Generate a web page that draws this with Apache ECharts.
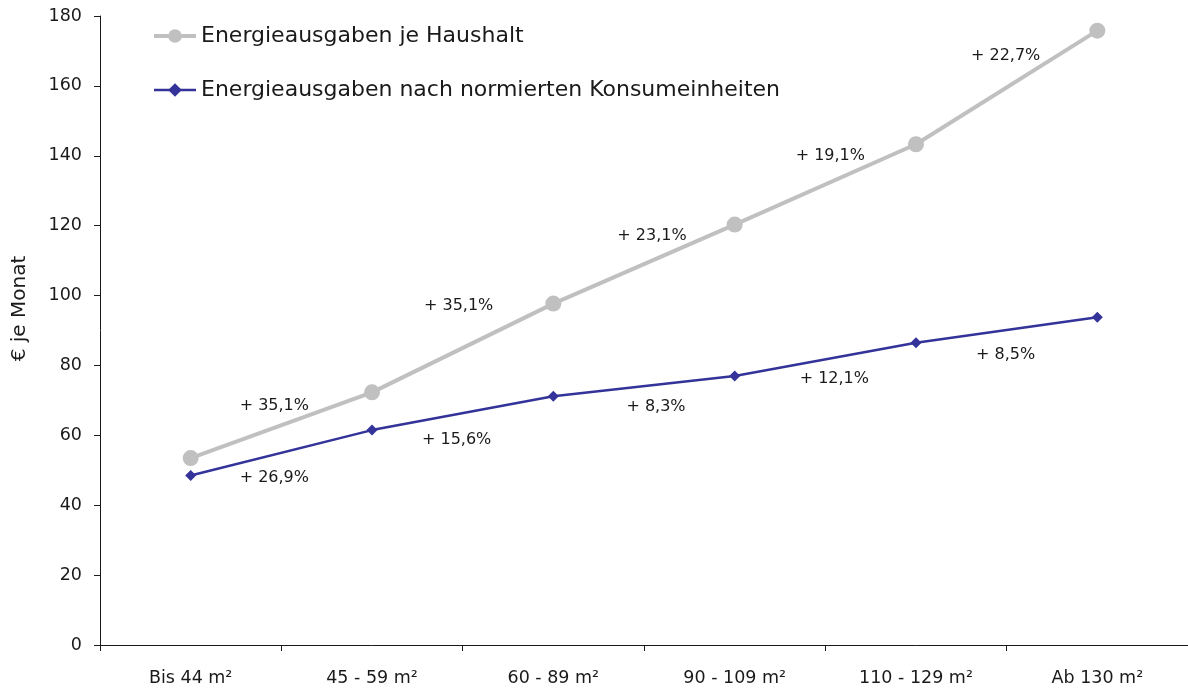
<!DOCTYPE html>
<html>
<head>
<meta charset="utf-8">
<script src="https://cdn.jsdelivr.net/npm/echarts@6/dist/echarts.min.js"></script>
<style>
  html, body { margin: 0; padding: 0; background: #fff; }
  #chart { width: 1188px; height: 693px; }
</style>
</head>
<body>
<div id="chart"></div>
<script>
// Wohnflächenklassen
const categories = ['Bis 44 m²', '45 - 59 m²', '60 - 89 m²', '90 - 109 m²', '110 - 129 m²', 'Ab 130 m²'];

// € je Monat
const haushalt = [53.5, 72.3, 97.7, 120.3, 143.3, 175.8];
const konsum = [48.5, 61.5, 71.2, 77.0, 86.5, 93.8];

// Zuwachs zwischen den Klassen
const haushaltPct = ['+ 35,1%', '+ 35,1%', '+ 23,1%', '+ 19,1%', '+ 22,7%'];
const konsumPct = ['+ 26,9%', '+ 15,6%', '+ 8,3%', '+ 12,1%', '+ 8,5%'];

const yTicks = [0, 20, 40, 60, 80, 100, 120, 140, 160, 180];

const FONT = 'DejaVu Sans';
const GRAY = '#c0c0c0';
const BLUE = '#333399';
const TEXT = '#1a1a1a';

// Label-Versatz in Pixel (nur Optik)
const grayDy = [-19, -42, -28, -29, -32];
const grayDx = [-7, -4, 8, 5, -1];
const blueDy = [25, 27, 21, 20, 25];
const blueDx = [-7, -6, 12, 9, -1];

// Beschriftungen in der Mitte der Segmente
const midLabels = (values, texts, dx, dy) => texts.map((t, i) => ({
  value: [i + 0.5, (values[i] + values[i + 1]) / 2],
  label: { formatter: t, offset: [dx[i], dy[i]] }
}));

const chart = echarts.init(document.getElementById('chart'));

const pctLabel = { show: true, position: 'inside', fontFamily: FONT, fontSize: 16, color: TEXT };

chart.setOption({
  animation: false,
  textStyle: { fontFamily: FONT },
  grid: { left: 100, right: 0, top: 16, bottom: 48 },
  legend: {
    orient: 'vertical',
    left: 152,
    top: 25,
    padding: 0,
    itemWidth: 42,
    itemHeight: 17,
    itemGap: 32,
    textStyle: { fontFamily: FONT, fontSize: 22, color: TEXT },
    data: [
      { name: 'Energieausgaben je Haushalt', lineStyle: { width: 4, color: GRAY } },
      { name: 'Energieausgaben nach normierten Konsumeinheiten', lineStyle: { width: 2.5, color: BLUE } }
    ]
  },
  xAxis: [
    {
      type: 'category',
      data: categories,
      boundaryGap: true,
      axisLine: { lineStyle: { color: TEXT, width: 1 } },
      axisTick: { show: true, length: 6, lineStyle: { color: TEXT } },
      axisLabel: { fontFamily: FONT, fontSize: 17.5, color: TEXT, margin: 24 }
    },
    {
      type: 'value',
      min: -0.5,
      max: 5.5,
      show: false
    }
  ],
  yAxis: {
    type: 'value',
    min: yTicks[0],
    max: yTicks[yTicks.length - 1],
    interval: 20,
    name: '€ je Monat',
    nameLocation: 'middle',
    nameGap: 70,
    nameTextStyle: { fontFamily: FONT, fontSize: 20, color: TEXT, padding: [0, 0, 0, 44] },
    axisLine: { show: true, onZero: false, lineStyle: { color: TEXT, width: 1 } },
    axisTick: { show: true, length: 6, lineStyle: { color: TEXT } },
    axisLabel: { fontFamily: FONT, fontSize: 17.5, color: TEXT, margin: 18 },
    splitLine: { show: false }
  },
  series: [
    {
      name: 'Energieausgaben je Haushalt',
      type: 'line',
      data: haushalt,
      symbol: 'circle',
      symbolSize: 16,
      lineStyle: { color: GRAY, width: 4 },
      itemStyle: { color: GRAY }
    },
    {
      name: 'Energieausgaben nach normierten Konsumeinheiten',
      type: 'line',
      data: konsum,
      symbol: 'diamond',
      symbolSize: 11,
      lineStyle: { color: BLUE, width: 2.5 },
      itemStyle: { color: BLUE }
    },
    {
      type: 'scatter',
      xAxisIndex: 1,
      symbolSize: 0,
      silent: true,
      itemStyle: { opacity: 1 },
      data: midLabels(haushalt, haushaltPct, grayDx, grayDy),
      label: pctLabel
    },
    {
      type: 'scatter',
      xAxisIndex: 1,
      symbolSize: 0,
      silent: true,
      itemStyle: { opacity: 1 },
      data: midLabels(konsum, konsumPct, blueDx, blueDy),
      label: pctLabel
    }
  ]
});

window.addEventListener('resize', () => chart.resize());
</script>
</body>
</html>
